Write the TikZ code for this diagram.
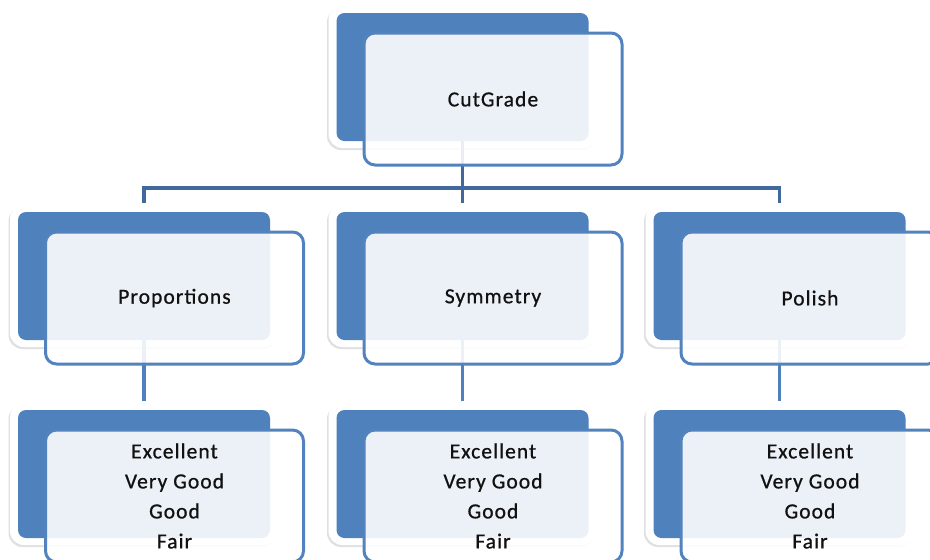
\documentclass[tikz,border=0pt]{standalone}
\usepackage{fontspec}
\setmainfont{Carlito}[LetterSpace=5, FakeBold=0.8]
\usetikzlibrary{shadows}
\pgfdeclarelayer{bg}
\pgfsetlayers{bg,main}
\definecolor{blueA}{HTML}{4F81BD}
\definecolor{blueB}{HTML}{5283BE}
\definecolor{blueD}{HTML}{41699B}
\definecolor{txt}{HTML}{111111}
\tikzset{
  backbox/.style={fill=blueA, rounded corners=8pt, minimum width=252pt, minimum height=128pt, inner sep=0pt, outer sep=0pt},
  halo/.style={fill=white, rounded corners=14pt, drop shadow={shadow xshift=-1.5pt, shadow yshift=-2pt, opacity=0.12, fill=black}},
  frontbox/.style={draw=blueB, line width=3pt, fill=white, fill opacity=0.89, text opacity=1, rounded corners=11pt, minimum width=258pt, minimum height=132pt, inner sep=0pt, align=center, font=\fontsize{21.5}{30}\selectfont, text=txt},
  darkconn/.style={draw=blueD, line width=3.5pt, line join=miter},
  lightconn/.style={draw=blueA, line width=3.5pt}
}
\begin{document}
\begin{tikzpicture}[x=1pt,y=-1pt]
\useasboundingbox (0,0) rectangle (930,560);
% back boxes
\node[backbox] (t)  at (462.5,77) {};
\node[backbox] (l)  at (144,276) {};
\node[backbox] (m)  at (462.5,276) {};
\node[backbox] (r)  at (779.5,276) {};
\node[backbox] (bl) at (144,474) {};
\node[backbox] (bm) at (462.5,474) {};
\node[backbox] (br) at (779.5,474) {};
\begin{pgfonlayer}{bg}
\foreach \n in {t,l,m,r,bl,bm,br}
  \path[halo] ([shift={(-8pt,7pt)}]\n.north west) rectangle ([shift={(8pt,-7pt)}]\n.south east);
\end{pgfonlayer}
% connectors
\coordinate (j) at (462.5,188);
\draw[darkconn] (t.south) -- (j);
\draw[darkconn, shorten <=9pt, shorten >=9pt] (l.north) |- (j) -| (r.north);
\draw[darkconn, shorten >=9pt] (j) -- (m.north);
\draw[lightconn, shorten >=9pt] (l.south) -- (bl.north);
\draw[lightconn, shorten >=9pt] (m.south) -- (bm.north);
\draw[lightconn, shorten >=9pt] (r.south) -- (br.north);
% front boxes
\node[frontbox] (ft)  at (493,99)  {CutGrade};
\node[frontbox] (fl)  at (174.5,298) {Proportions};
\node[frontbox] (fm)  at (493,298) {Symmetry};
\node[frontbox] (fr)  at (810,298) {Polish};
\node[frontbox] (fbl) at (174.5,496) {Excellent\\Very Good\\Good\\Fair};
\node[frontbox] (fbm) at (493,496) {Excellent\\Very Good\\Good\\Fair};
\node[frontbox] (fbr) at (810,496) {Excellent\\Very Good\\Good\\Fair};
\end{tikzpicture}
\end{document}
